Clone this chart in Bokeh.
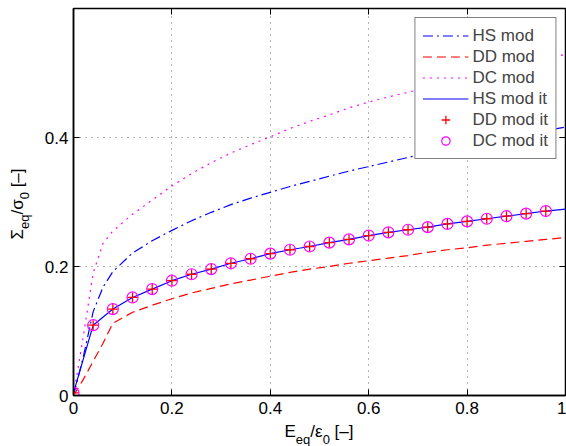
from bokeh.plotting import figure
from bokeh.layouts import row, column
from bokeh.models import Range1d, FixedTicker, Legend, LegendItem, Div, LinearAxis
from bokeh.embed import file_html
from bokeh.resources import INLINE

# ---------------- data ----------------
x_mod = [0.00, 0.02, 0.04, 0.06, 0.08, 0.12, 0.16, 0.20, 0.24, 0.28, 0.32, 0.36,
         0.40, 0.44, 0.48, 0.52, 0.56, 0.60, 0.64, 0.68, 0.72, 0.76, 0.80,
         0.84, 0.88, 0.92, 0.96, 1.00]
hs_mod = [0.000, 0.060, 0.130, 0.168, 0.192, 0.221, 0.240, 0.256, 0.271, 0.284,
          0.296, 0.306, 0.315, 0.324, 0.332, 0.340, 0.348, 0.355, 0.362, 0.369,
          0.376, 0.383, 0.389, 0.395, 0.400, 0.406, 0.411, 0.416]
dd_mod = [0.000, 0.025, 0.053, 0.081, 0.112, 0.129, 0.140, 0.150, 0.159, 0.166,
          0.173, 0.179, 0.185, 0.191, 0.196, 0.200, 0.205, 0.209, 0.213, 0.217,
          0.222, 0.226, 0.229, 0.233, 0.236, 0.239, 0.242, 0.245]
dc_mod = [0.000, 0.092, 0.190, 0.236, 0.255, 0.281, 0.303, 0.325, 0.344, 0.361,
          0.376, 0.389, 0.401, 0.414, 0.425, 0.435, 0.446, 0.455, 0.463, 0.470,
          0.478, 0.486, 0.493, 0.500, 0.508, 0.515, 0.522, 0.529]

x_it = [0.00, 0.04, 0.08, 0.12, 0.16, 0.20, 0.24, 0.28, 0.32, 0.36, 0.40, 0.44,
        0.48, 0.52, 0.56, 0.60, 0.64, 0.68, 0.72, 0.76, 0.80, 0.84, 0.88, 0.92,
        0.96, 1.00]
hs_it = [0.004, 0.109, 0.134, 0.152, 0.165, 0.178, 0.188, 0.196, 0.205, 0.212,
         0.220, 0.226, 0.231, 0.237, 0.242, 0.248, 0.253, 0.257, 0.261, 0.266,
         0.270, 0.274, 0.278, 0.282, 0.286, 0.289]
x_marks = x_it[:25]
dd_it = hs_it[:25]
dc_it = hs_it[:25]

series_names = ["HS mod", "DD mod", "DC mod", "HS mod it", "DD mod it", "DC mod it"]

x_ticks = [0, 0.2, 0.4, 0.6, 0.8, 1]
x_tick_labels = ["0", "0.2", "0.4", "0.6", "0.8", "1"]
y_ticks = [0, 0.2, 0.4]
y_tick_labels = ["0", "0.2", "0.4"]

FONT = "Liberation Sans"
YLAB_W = 38
XLAB_H = 23

p = figure(width=566 - YLAB_W, height=446 - XLAB_H, output_backend="svg",
           toolbar_location=None, x_range=Range1d(0, 1), y_range=Range1d(0, 0.6),
           min_border_left=73 - YLAB_W, min_border_right=1, min_border_top=8,
           min_border_bottom=28, background_fill_color="white",
           border_fill_color="white", margin=0)
p.outline_line_color = "black"
p.outline_line_width = 1.5

r_hs = p.multi_line([x_mod], [hs_mod], line_color="#0000ff", line_width=1.2, line_dash="10 4 2 4")
r_dd = p.multi_line([x_mod], [dd_mod], line_color="#ff0000", line_width=1.2, line_dash="9 5")
r_dc = p.multi_line([x_mod], [dc_mod], line_color="#ff00ff", line_width=1.2, line_dash="2 5")
r_hsit = p.multi_line([x_it], [hs_it], line_color="#0000ff", line_width=1.2)
r_ddit = p.scatter(x_marks, dd_it, marker="cross", size=10, line_color="#ff0000", line_width=1.3)
r_dcit = p.scatter(x_marks, dc_it, marker="circle", size=11, line_color="#ff00ff",
                   fill_color=None, line_width=1.2)

# axes
for ax, ticks, labels in ((p.xaxis[0], x_ticks, x_tick_labels), (p.yaxis[0], y_ticks, y_tick_labels)):
    ax.ticker = FixedTicker(ticks=ticks)
    ax.major_label_overrides = {t: l for t, l in zip(ticks, labels)}
    ax.major_tick_in = 6
    ax.major_tick_out = 0
    ax.minor_tick_line_color = None
    ax.axis_line_color = "black"
    ax.axis_line_width = 1.5
    ax.major_tick_line_color = "black"
    ax.major_label_text_font = FONT
    ax.major_label_text_font_size = "17px"
    ax.major_label_text_color = "black"
p.xaxis.major_label_standoff = 6
p.yaxis.major_label_standoff = 5

# tick marks only (no labels) on the top and right edges of the box
for side, ticks in (("above", x_ticks), ("right", y_ticks)):
    p.add_layout(LinearAxis(ticker=FixedTicker(ticks=ticks), major_tick_in=6,
                            major_tick_out=0, minor_tick_line_color=None,
                            axis_line_color=None, major_tick_line_color="black",
                            major_label_text_color=None,
                            major_label_text_font_size="1px",
                            major_label_standoff=0), side)

p.xgrid.ticker = FixedTicker(ticks=x_ticks)
p.ygrid.ticker = FixedTicker(ticks=y_ticks)
for g in (p.xgrid[0], p.ygrid[0]):
    g.grid_line_color = "#6a6a6a"
    g.grid_line_dash = "1 5"
    g.grid_line_width = 1

legend = Legend(items=[LegendItem(label=n, renderers=[r]) for n, r in
                       zip(series_names, [r_hs, r_dd, r_dc, r_hsit, r_ddit, r_dcit])],
                location="top_right")
legend.border_line_color = "black"
legend.border_line_width = 1.5
legend.background_fill_color = "white"
legend.background_fill_alpha = 1
legend.label_text_font = FONT
legend.label_text_font_size = "17px"
legend.glyph_width = 46
legend.glyph_height = 21
legend.label_height = 21
legend.label_standoff = 4
legend.spacing = 0
legend.padding = 7
legend.margin = 9
p.add_layout(legend)

# axis labels with subscripts (HTML text)
SUB = '<span style="font-size:13px;vertical-align:-7px">{}</span>'
x_label_html = "E" + SUB.format("eq") + "/ε" + SUB.format("0") + " [–]"
y_label_html = "Σ" + SUB.format("eq") + "/σ" + SUB.format("0") + " [–]"

base = (f"position:absolute;white-space:nowrap;font-family:'{FONT}';font-size:17px;"
        "line-height:1;color:black;")
xlab = Div(text=f'<div style="{base}left:{319 - YLAB_W}px;top:0px;'
                f'transform:translateX(-50%);">{x_label_html}</div>',
           width=566 - YLAB_W, height=XLAB_H, margin=0,
           styles={"position": "relative", "overflow": "visible"})
ylab = Div(text=f'<div style="{base}left:9px;top:204px;writing-mode:vertical-rl;'
                f'transform:translateY(-50%) rotate(180deg);">{y_label_html}</div>',
           width=YLAB_W, height=446, margin=0,
           styles={"position": "relative", "overflow": "visible"})

layout = row(ylab, column(p, xlab, spacing=0, margin=0), spacing=0, margin=0)

open("out.html", "w").write(file_html(layout, INLINE))
